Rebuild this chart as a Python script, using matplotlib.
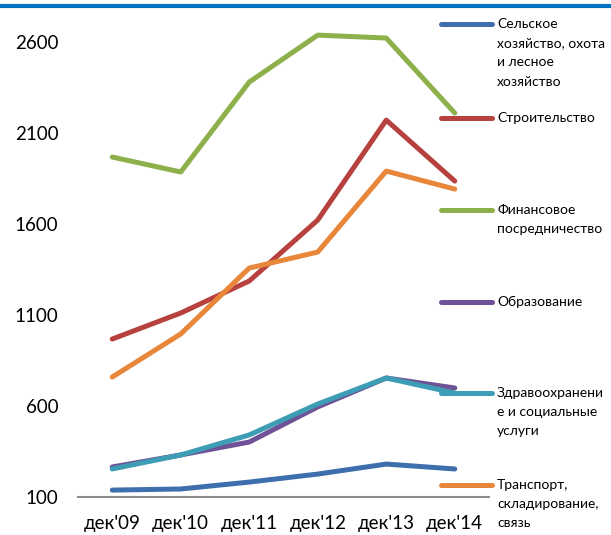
import matplotlib
matplotlib.use("Agg")
import matplotlib.pyplot as plt
from matplotlib.lines import Line2D

# Data
periods = ["дек'09", "дек'10", "дек'11", "дек'12", "дек'13", "дек'14"]

agriculture = [138, 144, 182, 226, 281, 254]
construction = [968, 1111, 1287, 1622, 2171, 1836]
finance = [1968, 1886, 2380, 2638, 2622, 2210]
education = [265, 331, 402, 595, 754, 699]
health = [254, 331, 441, 611, 754, 671]
transport = [759, 996, 1358, 1446, 1891, 1792]

labels = [
    "Сельское\nхозяйство, охота\nи лесное\nхозяйство",
    "Строительство",
    "Финансовое\nпосредничество",
    "Образование",
    "Здравоохранени\nе и социальные\nуслуги",
    "Транспорт,\nскладирование,\nсвязь",
]
series = [agriculture, construction, finance, education, health, transport]
colors = ["#3F6EAC", "#B6413E", "#8DB04A", "#6F5195", "#3D9DB5", "#E8863A"]

yticks = [100, 600, 1100, 1600, 2100, 2600]

plt.rcParams['font.family'] = ['Lato', 'DejaVu Sans']

W, H = 611, 535
fig = plt.figure(figsize=(W / 100, H / 100), dpi=100)
ax = fig.add_axes([78 / W, (H - 497) / H, 411 / W, 497 / H])

x = list(range(len(periods)))
for vals, col in zip(series, colors):
    ax.plot(x, vals, color=col, linewidth=3.6, solid_capstyle='round',
            solid_joinstyle='round', clip_on=False)

ax.set_xlim(-0.5, len(periods) - 0.5)
ax.set_ylim(100, 2831)
ax.set_xticks(x)
ax.set_xticklabels(periods, fontsize=13.5)
ax.set_yticks(yticks)
ax.set_yticklabels([str(v) for v in yticks], fontsize=13.5)
ax.tick_params(axis='both', length=0)
ax.tick_params(axis='y', pad=14)
ax.tick_params(axis='x', pad=13)
for side in ['top', 'right', 'left']:
    ax.spines[side].set_visible(False)
ax.spines['bottom'].set_color('#8C8C8C')
ax.spines['bottom'].set_linewidth(1.5)
ax.patch.set_visible(False)

# blue rule across the top
fig.add_artist(Line2D([0, 1], [1 - 5.5 / H, 1 - 5.5 / H], transform=fig.transFigure,
                      color='#0070C0', linewidth=3))

# manual legend on the right
legend_y = [24, 118, 210, 302, 393, 485]
for lab, col, py in zip(labels, colors, legend_y):
    yf = 1 - py / H
    fig.add_artist(Line2D([441 / W, 492 / W], [yf, yf], transform=fig.transFigure,
                          color=col, linewidth=3.6, solid_capstyle='round'))
    fig.text(497 / W, yf + 6 / H, lab, fontsize=10, va='top', ha='left',
             linespacing=1.72)

fig.savefig("out.png", dpi=100)
